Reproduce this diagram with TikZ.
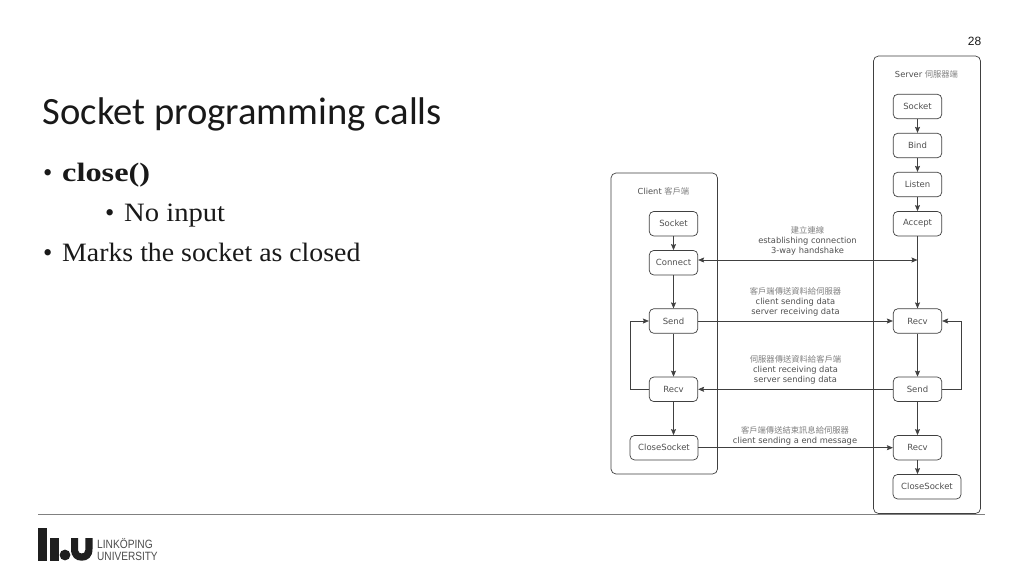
\documentclass[tikz,border=0pt]{standalone}
\usepackage{fontspec}
\setmainfont{Liberation Serif}
\newfontfamily\titlefont{Carlito}
\newfontfamily\diagfont{DejaVu Sans}
\newfontfamily\cjk{Noto Sans CJK TC}
\newfontfamily\arialfont{Liberation Sans}
\usetikzlibrary{arrows.meta}
\definecolor{ln}{HTML}{404040}
\definecolor{txt}{HTML}{505050}
\definecolor{cjkc}{HTML}{808080}
\definecolor{rule}{HTML}{808080}
\tikzset{
  x=1pt,y=-1pt,
  tip/.tip={Stealth[length=6pt,width=5pt,inset=1pt]},
  box/.style={draw=ln,line width=0.7pt,rounded corners=4.5pt,minimum height=24.5pt,minimum width=48.5pt,inner sep=0pt,font=\diagfont\fontsize{8.5}{10}\selectfont,text=txt},
  widebox/.style={box,minimum width=68pt},
  lbl/.style={align=center,inner sep=0pt,font=\diagfont\fontsize{8.3}{9.7}\selectfont,text=txt},
  conn/.style={draw=ln,line width=0.7pt,-tip},
  bullet/.style={anchor=base west,inner sep=0pt,font=\fontsize{26.5}{30}\selectfont,text=black!90},
  logotext/.style={anchor=base west,inner sep=0pt,font=\arialfont\fontsize{12}{14}\selectfont,text=black!70},
}
\newcommand{\zh}[1]{{\cjk\fontsize{8.3}{9.7}\selectfont\textcolor{cjkc}{#1}}}
\begin{document}
\begin{tikzpicture}
\useasboundingbox (0,0) rectangle (1024,576);
\fill[white] (0,0) rectangle (1024,576);
% slide text
\node[anchor=base west,inner sep=0pt,font=\titlefont\fontsize{38.6}{42}\selectfont,text=black!90] (title) at (42.5,124) {Socket programming calls};
\node[bullet] (b1) at (43,181) {•};
\node[bullet,font=\bfseries\fontsize{26.5}{30}\selectfont] (t1) at (62,181) {\scalebox{1.22}[1]{close()}};
\node[bullet] (b2) at (105,221) {•};
\node[bullet] (t2) at (124,221) {\scalebox{1.08}[1]{No input}};
\node[bullet] (b3) at (43,261) {•};
\node[bullet] (t3) at (62,261) {\scalebox{1.05}[1]{Marks the socket as closed}};
\node[anchor=base east,inner sep=0pt,font=\arialfont\fontsize{12}{14}\selectfont,text=black!90] (pg) at (981.5,45) {28};
% footer rule
\coordinate (ruleL) at (38,514);
\coordinate (ruleR) at (985,514);
\draw[rule,line width=1pt] (ruleL) -- (ruleR);
% logo
\fill[black!88] (38,528.3) rectangle (47.3,560.7);
\fill[black!88] (50,538) rectangle (59.3,560.7);
\fill[black!88] (65,555) circle (5.4);
\fill[black!88] (71,538) -- (78,538) -- (78,550) .. controls (78,552.5) and (80,553.5) .. (81.7,553.5) .. controls (83.5,553.5) and (85.3,552.5) .. (85.3,550) -- (85.3,538) -- (92.5,538) -- (92.5,549)
   .. controls (92.5,557) and (88,560.7) .. (81.7,560.7) .. controls (75.5,560.7) and (71,557) .. (71,549) -- cycle;
\node[logotext] (logo1) at (97,548.3) {\scalebox{0.85}[1]{LINKÖPING}};
\node[logotext] (logo2) at (97,560.3) {\scalebox{0.84}[1]{UNIVERSITY}};
% frames
\fill[white,draw=ln,line width=0.7pt,rounded corners=5pt] (611,173) rectangle (717.5,474);
\fill[white,draw=ln,line width=0.7pt,rounded corners=5pt] (873.5,56) rectangle (980.5,513.5);
\node[lbl] (clab) at (663.5,191.5) {Client \zh{客戶端}};
\node[lbl] (slab) at (926.5,74.5) {Server \zh{伺服器端}};
% client nodes
\node[box] (cs) at (673.5,223.7) {Socket};
\node[box] (cc) at (673.5,262.7) {Connect};
\node[box] (cd) at (673.5,321) {Send};
\node[box] (cr) at (673.5,389.3) {Recv};
\node[widebox] (cx) at (664,447.7) {CloseSocket};
% server nodes
\node[box] (ss) at (917.5,106.5) {Socket};
\node[box] (sb) at (917.5,145.5) {Bind};
\node[box] (sl) at (917.5,184.5) {Listen};
\node[box] (sa) at (917.5,223.7) {Accept};
\node[box] (sr) at (917.5,321) {Recv};
\node[box] (sd) at (917.5,389.3) {Send};
\node[box] (sq) at (917.5,447.7) {Recv};
\node[widebox] (sx) at (927,486.7) {CloseSocket};
% vertical arrows
\draw[conn] (cs) -- (cc);
\draw[conn] (cc) -- (cd);
\draw[conn] (cd) -- (cr);
\draw[conn] (cr.south) -- (cr.south |- cx.north);
\draw[conn] (ss) -- (sb);
\draw[conn] (sb) -- (sl);
\draw[conn] (sl) -- (sa);
\draw[conn] (sa) -- (sr);
\draw[conn] (sr) -- (sd);
\draw[conn] (sd) -- (sq);
\draw[conn] (sq.south) -- (sq.south |- sx.north);
% loops
\coordinate (cloop) at (630,0);
\coordinate (sloop) at (961,0);
\draw[conn] (cr.west) -- (cloop |- cr.west) -- (cloop |- cd.west) -- (cd.west);
\draw[conn] (sd.east) -- (sloop |- sd.east) -- (sloop |- sr.east) -- (sr.east);
% horizontal
\coordinate (ccport) at ([yshift=2.7pt]cc.east);
\coordinate (hs) at (ccport -| sa.south);
\draw[draw=ln,line width=0.7pt,tip-tip] (ccport) -- (hs);
\draw[conn] (cd.east) -- (sr.west);
\draw[conn] (sd.west) -- (cr.east);
\draw[conn] (cx.east) -- (sq.west);
% labels
\node[lbl] (l1) at (807.5,241) {\zh{建立連線}\\establishing connection\\3-way handshake};
\node[lbl] (l2) at (795.5,302) {\zh{客戶端傳送資料給伺服器}\\client sending data\\server receiving data};
\node[lbl] (l3) at (795.5,370) {\zh{伺服器傳送資料給客戶端}\\client receiving data\\server sending data};
\node[lbl] (l4) at (795,435.5) {\zh{客戶端傳送結束訊息給伺服器}\\client sending a end message};
\end{tikzpicture}
\end{document}
